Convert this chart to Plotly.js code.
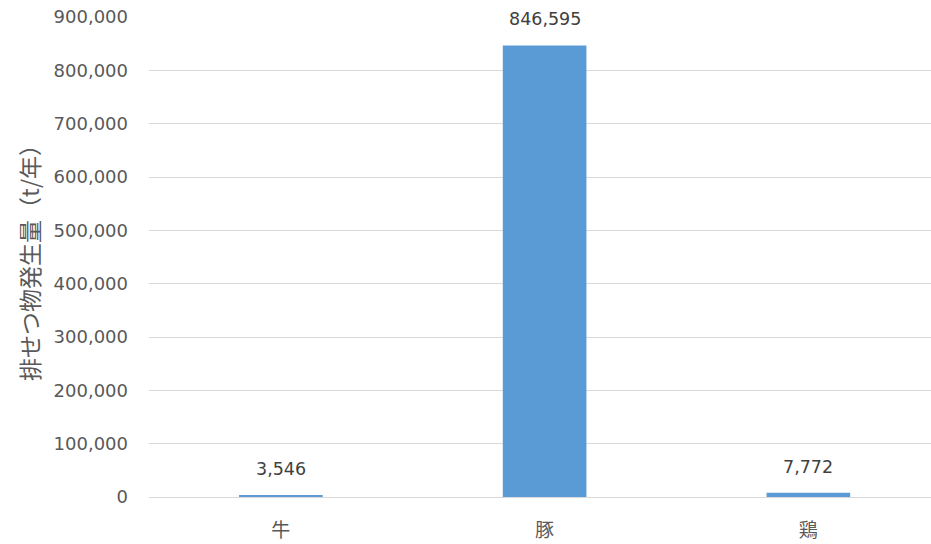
<!DOCTYPE html>
<html>
<head>
<meta charset="utf-8">
<script src="https://cdn.plot.ly/plotly-3.0.1.min.js"></script>
<style>html,body{margin:0;padding:0;background:#fff;}#chart{width:931px;height:544px;}</style>
</head>
<body>
<div id="chart"></div>
<script>
const categories = ["牛", "豚", "鶏"];
const values = [3546, 846595, 7772];
const valueLabels = ["3,546", "846,595", "7,772"];
const yTickVals = [0, 100000, 200000, 300000, 400000, 500000, 600000, 700000, 800000, 900000];
const yTickText = ["0", "100,000", "200,000", "300,000", "400,000", "500,000", "600,000", "700,000", "800,000", "900,000"];
const yTitle = "排せつ物発生量（t/年）";

const fontFam = "DejaVu Sans, Noto Sans CJK JP, sans-serif";

const trace = {
  type: "bar",
  x: categories,
  y: values,
  width: 0.317,
  marker: {color: "#5B9BD5"},
  hoverinfo: "none"
};

const annotations = categories.map((c, i) => ({
  x: c, y: values[i], text: valueLabels[i],
  showarrow: false, yanchor: "middle", yshift: 26,
  font: {family: fontFam, size: 17.5, color: "#404040"}
}));

const layout = {
  width: 931, height: 544,
  margin: {l: 149, r: 0, t: 17, b: 47},
  paper_bgcolor: "#fff", plot_bgcolor: "#fff",
  showlegend: false,
  xaxis: {
    type: "category",
    range: [-0.5, 2.465],
    showgrid: false,
    showline: true, linecolor: "#d9d9d9", linewidth: 1,
    ticks: "",
    ticklabelstandoff: 16,
    tickfont: {family: fontFam, size: 19, color: "#595959"}
  },
  yaxis: {
    range: [0, 900000],
    tickvals: yTickVals, ticktext: yTickText,
    showgrid: true, gridcolor: "#d9d9d9", gridwidth: 1,
    zeroline: false, showline: false, ticks: "",
    ticklabelstandoff: 20,
    tickfont: {family: fontFam, size: 18, color: "#595959"},
    title: {text: yTitle, standoff: 7, font: {family: "Noto Sans CJK JP, sans-serif", size: 23, color: "#595959"}}
  },
  annotations: annotations
};

Plotly.newPlot("chart", [trace], layout, {displayModeBar: false, staticPlot: true});
</script>
</body>
</html>
